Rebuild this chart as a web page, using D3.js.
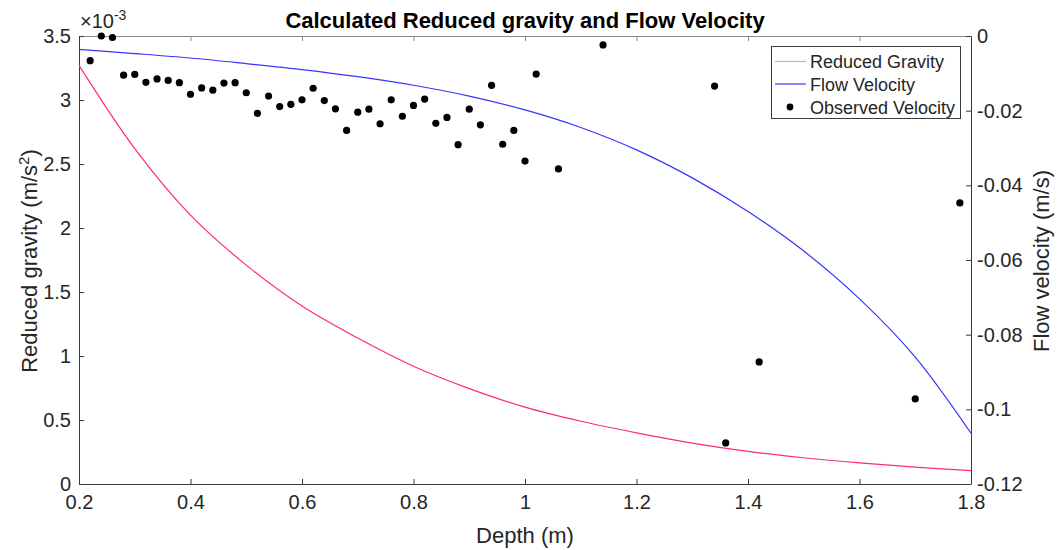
<!DOCTYPE html>
<html>
<head>
<meta charset="utf-8">
<script src="https://cdn.jsdelivr.net/npm/d3@7"></script>
<style>
  html, body { margin: 0; padding: 0; background: #fff; }
  svg { display: block; font-family: "Liberation Sans", Arial, sans-serif; }
</style>
</head>
<body>
<svg id="chart" width="1057" height="550"></svg>
<script>
// ---------------- data ----------------
const depthTicks = [0.2, 0.4, 0.6, 0.8, 1.0, 1.2, 1.4, 1.6, 1.8];
const depthTickLabels = ["0.2", "0.4", "0.6", "0.8", "1", "1.2", "1.4", "1.6", "1.8"];
const gravityTicks = [0, 0.5, 1, 1.5, 2, 2.5, 3, 3.5];
const gravityTickLabels = ["0", "0.5", "1", "1.5", "2", "2.5", "3", "3.5"];
const velocityTicks = [-0.12, -0.10, -0.08, -0.06, -0.04, -0.02, 0];
const velocityTickLabels = ["-0.12", "-0.1", "-0.08", "-0.06", "-0.04", "-0.02", "0"];

// Calculated curves (depth in m)
const curveDepth = [0.2, 0.3, 0.4, 0.5, 0.6, 0.7, 0.8, 0.9, 1.0, 1.1, 1.2, 1.3, 1.4, 1.5, 1.6, 1.7, 1.8];
// Reduced gravity (x 10^-3 m/s^2)
const reducedGravity = [3.27, 2.62, 2.10, 1.71, 1.39, 1.14, 0.92, 0.745, 0.60, 0.49, 0.40, 0.32, 0.255, 0.205, 0.165, 0.132, 0.104];
// Flow velocity (m/s)
const flowVelocity = [-0.0036, -0.0047, -0.0059, -0.0074, -0.0090, -0.0109, -0.0132, -0.0161, -0.0198, -0.0245, -0.0305, -0.0380, -0.0470, -0.0576, -0.0704, -0.0860, -0.1064];

// Observed velocity (m/s)
const obsDepth = [0.22, 0.24, 0.26, 0.28, 0.30, 0.32, 0.34, 0.36, 0.38, 0.40, 0.42, 0.44, 0.46, 0.48,
  0.50, 0.52, 0.54, 0.56, 0.58, 0.60, 0.62, 0.64, 0.66, 0.68, 0.70, 0.72, 0.74, 0.76, 0.78, 0.80,
  0.82, 0.84, 0.86, 0.88, 0.90, 0.92, 0.94, 0.96, 0.98, 1.00, 1.02, 1.06, 1.14, 1.34, 1.36, 1.42, 1.70, 1.78];
const obsVelocity = [-0.0066, 0.0000, -0.0004, -0.0105, -0.0103, -0.0124, -0.0115, -0.0119, -0.0125, -0.0156,
  -0.0139, -0.0145, -0.0126, -0.0125, -0.0152, -0.0207, -0.0161, -0.0189, -0.0183, -0.0171,
  -0.0140, -0.0173, -0.0195, -0.0253, -0.0204, -0.0196, -0.0235, -0.0171, -0.0215, -0.0186,
  -0.0169, -0.0234, -0.0218, -0.0291, -0.0196, -0.0238, -0.0132, -0.0290, -0.0253, -0.0335,
  -0.0102, -0.0356, -0.0024, -0.0134, -0.1090, -0.0873, -0.0972, -0.0447];

const legendLabels = ["Reduced Gravity", "Flow Velocity", "Observed Velocity"];

// ---------------- layout ----------------
const L = 79, R = 971, T = 36, B = 484;
const axisColor = "#3a3a3a";
const textColor = "#262626";

const svg = d3.select("#chart");
const x = d3.scaleLinear().domain([0.2, 1.8]).range([L, R]);
const yL = d3.scaleLinear().domain([0, 3.5]).range([B, T]);
const yR = d3.scaleLinear().domain([-0.12, 0]).range([B, T]);

// box top line
svg.append("line").attr("x1", L).attr("x2", R).attr("y1", T + 0.5).attr("y2", T + 0.5)
  .attr("stroke", "#8a8a8a").attr("stroke-width", 1);

function styleAxis(g, fs) {
  g.select(".domain").attr("stroke", axisColor).attr("stroke-width", 1);
  g.selectAll(".tick line").attr("stroke", axisColor);
  g.selectAll(".tick text").attr("fill", textColor).style("font-size", fs + "px")
    .style("font-family", '"Liberation Sans", Arial, sans-serif');
}

// bottom axis
const xAxis = d3.axisBottom(x).tickValues(depthTicks)
  .tickFormat((d, i) => depthTickLabels[i]).tickSizeInner(-5).tickSizeOuter(0).tickPadding(11);
const gx = svg.append("g").attr("transform", `translate(0,${B})`).call(xAxis);
styleAxis(gx, 20);

// top ticks
const xTop = d3.axisTop(x).tickValues(depthTicks).tickFormat("").tickSizeInner(-5).tickSizeOuter(0);
const gxt = svg.append("g").attr("transform", `translate(0,${T})`).call(xTop);
gxt.select(".domain").remove();
gxt.selectAll(".tick line").attr("stroke", "#8a8a8a");

// left axis
const yLAxis = d3.axisLeft(yL).tickValues(gravityTicks)
  .tickFormat((d, i) => gravityTickLabels[i]).tickSizeInner(-5).tickSizeOuter(0).tickPadding(8);
const gyl = svg.append("g").attr("transform", `translate(${L},0)`).call(yLAxis);
styleAxis(gyl, 20);

// right axis
const yRAxis = d3.axisRight(yR).tickValues(velocityTicks)
  .tickFormat((d, i) => velocityTickLabels[i]).tickSizeInner(-5).tickSizeOuter(0).tickPadding(6);
const gyr = svg.append("g").attr("transform", `translate(${R},0)`).call(yRAxis);
styleAxis(gyr, 20);

// exponent label
const ex = svg.append("text").attr("x", 80).attr("y", 28).attr("fill", textColor)
  .style("font-size", "20px");
ex.append("tspan").text("\u00d710");
ex.append("tspan").attr("dy", -8).style("font-size", "14px").text("-3");

// curves
const lineG = d3.line().x((d, i) => x(curveDepth[i])).y(d => yL(d)).curve(d3.curveCatmullRom);
const lineV = d3.line().x((d, i) => x(curveDepth[i])).y(d => yR(d)).curve(d3.curveCatmullRom);

svg.append("path").datum(reducedGravity).attr("d", lineG)
  .attr("fill", "none").attr("stroke", "#ff2d6b").attr("stroke-width", 1.2);
svg.append("path").datum(flowVelocity).attr("d", lineV)
  .attr("fill", "none").attr("stroke", "#3535ff").attr("stroke-width", 1.2);

// observed points
svg.append("g").selectAll("circle").data(obsVelocity).join("circle")
  .attr("cx", (d, i) => x(obsDepth[i])).attr("cy", d => yR(d)).attr("r", 3.6)
  .attr("fill", "#000");

// title
svg.append("text").attr("x", 525).attr("y", 28).attr("text-anchor", "middle")
  .attr("fill", "#000").style("font-size", "22px").style("font-weight", "bold")
  .text("Calculated Reduced gravity and Flow Velocity");

// axis labels
svg.append("text").attr("x", 525).attr("y", 543).attr("text-anchor", "middle")
  .attr("fill", textColor).style("font-size", "22px").text("Depth (m)");

const ylab = svg.append("text").attr("transform", "translate(37,261) rotate(-90)")
  .attr("text-anchor", "middle").attr("fill", textColor).style("font-size", "22px");
ylab.append("tspan").text("Reduced gravity (m/s");
ylab.append("tspan").attr("dy", -8).style("font-size", "15px").text("2");
ylab.append("tspan").attr("dy", 8).text(")");

svg.append("text").attr("transform", "translate(1049,261) rotate(-90)")
  .attr("text-anchor", "middle").attr("fill", textColor).style("font-size", "22px")
  .text("Flow velocity (m/s)");

// legend
const lg = svg.append("g");
lg.append("rect").attr("x", 771.5).attr("y", 46.5).attr("width", 189).attr("height", 72)
  .attr("fill", "#fff").attr("stroke", "#3a3a3a").attr("stroke-width", 1);
const rowsY = [61.5, 84, 107];
lg.append("line").attr("x1", 775).attr("x2", 806).attr("y1", rowsY[0]).attr("y2", rowsY[0])
  .attr("stroke", "#b8b8b8").attr("stroke-width", 1.2);
lg.append("line").attr("x1", 775).attr("x2", 806).attr("y1", rowsY[1]).attr("y2", rowsY[1])
  .attr("stroke", "#3535ff").attr("stroke-width", 1.2);
lg.append("circle").attr("cx", 790).attr("cy", rowsY[2]).attr("r", 3.4).attr("fill", "#000");
lg.selectAll("text.lt").data(legendLabels).join("text").attr("class", "lt")
  .attr("x", 810).attr("y", (d, i) => rowsY[i] + 6.5).attr("fill", textColor)
  .style("font-size", "18px").text(d => d);
</script>
</body>
</html>
